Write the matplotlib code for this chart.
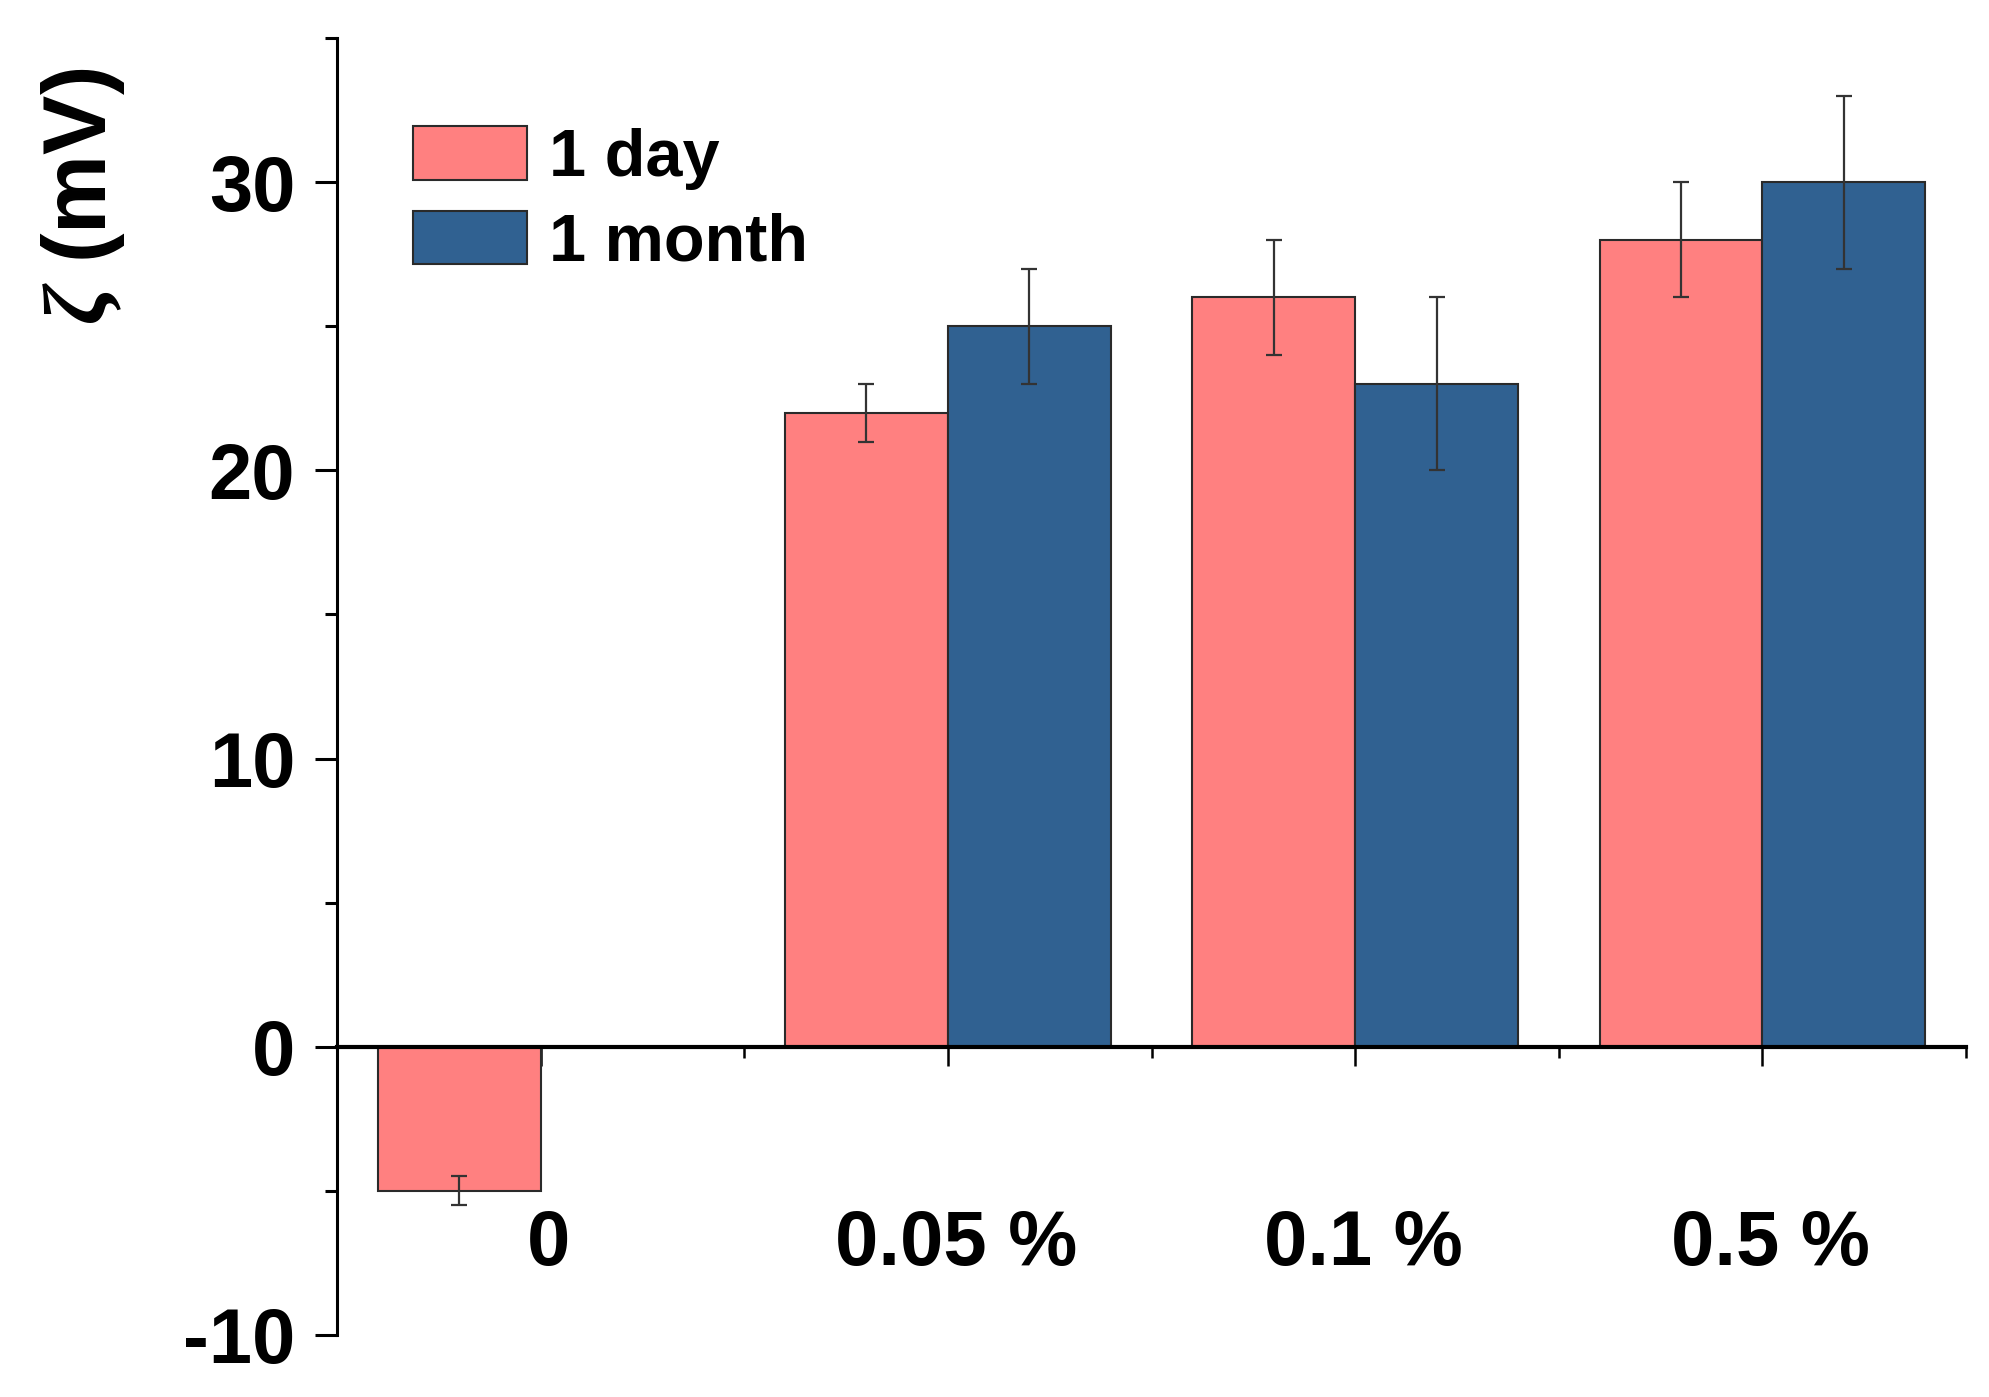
import numpy as np
import matplotlib
matplotlib.use("Agg")
from matplotlib import pyplot as plt
from matplotlib.ticker import MultipleLocator, FixedLocator
from matplotlib.transforms import ScaledTranslation

categories = ["0", "0.05 %", "0.1 %", "0.5 %"]
day_values = [-5, 22, 26, 28]
day_errors = [0.5, 1, 2, 2]
month_values = [0, 25, 23, 30]
month_errors = [0, 2, 3, 3]

plt.rcParams['font.family'] = ['Liberation Sans', 'DejaVu Sans']
plt.rcParams['font.weight'] = 'bold'
plt.rcParams['axes.unicode_minus'] = False
plt.rcParams['mathtext.fontset'] = 'custom'
plt.rcParams['mathtext.rm'] = 'Liberation Sans'
plt.rcParams['mathtext.it'] = 'Liberation Serif:italic'
plt.rcParams['mathtext.bf'] = 'Liberation Sans:bold'

fig = plt.figure(figsize=(19.9, 13.97), dpi=100)
ax = fig.add_axes([0.1693, 0.0444, 0.8187, 0.9284])

x = np.arange(len(categories))
width = 0.4
day_mask = np.array(day_values) != 0
month_mask = np.array(month_values) != 0

ax.bar(x - width / 2, day_values, width, color='#FF8080', edgecolor='#2a2a2a',
       linewidth=1.5, label='1 day', zorder=2)
ax.bar(x + width / 2, month_values, width, color='#306191', edgecolor='#2a2a2a',
       linewidth=1.5, label='1 month', zorder=2)
ax.errorbar((x - width / 2)[day_mask], np.array(day_values)[day_mask],
            yerr=np.array(day_errors)[day_mask], fmt='none', ecolor='#333333',
            elinewidth=1.6, capsize=6, capthick=1.6, zorder=3)
ax.errorbar((x + width / 2)[month_mask], np.array(month_values)[month_mask],
            yerr=np.array(month_errors)[month_mask], fmt='none', ecolor='#333333',
            elinewidth=1.6, capsize=6, capthick=1.6, zorder=3)

ax.set_xlim(-0.5, 3.5)
ax.set_ylim(-10, 35)

for side in ['top', 'right']:
    ax.spines[side].set_visible(False)
ax.spines['bottom'].set_position(('data', 0))
ax.spines['bottom'].set_linewidth(3)
ax.spines['left'].set_linewidth(2.2)
ax.spines['bottom'].set_zorder(4)

ax.yaxis.set_major_locator(MultipleLocator(10))
ax.yaxis.set_minor_locator(FixedLocator([-5, 5, 15, 25, 35]))
ax.tick_params(axis='y', which='major', length=16, width=2.2, pad=14, labelsize=56)
ax.tick_params(axis='y', which='minor', length=9, width=2.2)

ax.set_xticks(x)
ax.set_xticklabels(categories)
ax.xaxis.set_minor_locator(FixedLocator([0.5, 1.5, 2.5, 3.5]))
ax.tick_params(axis='x', which='major', direction='out', length=14, width=1.8,
               pad=102, labelsize=56)
ax.tick_params(axis='x', which='minor', direction='out', length=8, width=1.8)
shift = ScaledTranslation(0.08, 0, fig.dpi_scale_trans)
for lbl in ax.get_xticklabels():
    lbl.set_transform(lbl.get_transform() + shift)

ax.set_ylabel(r'$\zeta\ \mathbf{(mV)}$', fontsize=64, fontweight='normal')
ax.yaxis.set_label_coords(-0.129, 0.878)

ax.legend(loc='upper left', bbox_to_anchor=(0.047, 0.932), frameon=False,
          fontsize=48, handlelength=1.7, handleheight=0.86, handletextpad=0.34,
          labelspacing=0.31, borderpad=0, borderaxespad=0)

fig.savefig('out.png', dpi=100)
